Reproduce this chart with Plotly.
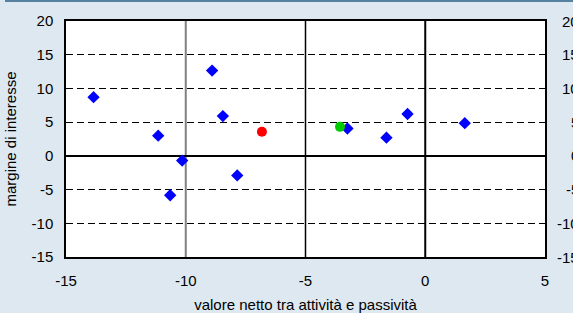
import plotly.graph_objects as go

# Data
banks_x = [-13.85, -11.15, -10.15, -10.65, -8.9, -8.45, -7.85, -3.25, -1.62, -0.74, 1.65]
banks_y = [8.7, 3.0, -0.7, -5.85, 12.65, 5.9, -2.9, 4.05, 2.7, 6.2, 4.85]
red_x = [-6.82]
red_y = [3.58]
green_x = [-3.56]
green_y = [4.3]

x_ticks = [-15, -10, -5, 0, 5]
x_labels = ["-15", "-10", "-5", "0", "5"]
y_ticks = [-15, -10, -5, 0, 5, 10, 15, 20]
y_labels = ["-15", "-10", "-5", "0", "5", "10", "15", "20"]
vlines = [-10, -5, 0]
vline_colors = ["#808080", "#000000", "#000000"]
vline_widths = [2, 1.5, 2]

BG = "#dde8f0"
FONT = "Liberation Sans, Arial, Helvetica, sans-serif"
FS = 15

fig = go.Figure()
fig.add_trace(go.Scatter(x=banks_x, y=banks_y, mode="markers",
                         marker=dict(symbol="diamond", size=9.5, color="#0000ff"),
                         showlegend=False))
fig.add_trace(go.Scatter(x=red_x, y=red_y, mode="markers",
                         marker=dict(symbol="circle", size=10, color="#ff0000"),
                         showlegend=False))
fig.add_trace(go.Scatter(x=green_x, y=green_y, mode="markers",
                         marker=dict(symbol="circle", size=10, color="#00cc00"),
                         showlegend=False))

shapes = []
for xv, c, w in zip(vlines, vline_colors, vline_widths):
    shapes.append(dict(type="line", xref="x", yref="paper", x0=xv, x1=xv, y0=0, y1=1,
                       line=dict(color=c, width=w), layer="below"))
shapes.append(dict(type="line", xref="paper", yref="paper",
                   x0=(5 - 66) / 479, x1=(573 - 66) / 479,
                   y0=(257 - 1) / 236, y1=(257 - 1) / 236,
                   line=dict(color="#2a5f86", width=1.5)))

# right-hand duplicate axis labels (right-aligned, partly outside the frame as in the reference)
annotations = [dict(x=(581 - 66) / 479, xref="paper", y=v, yref="y", text=t,
                    showarrow=False, xanchor="right", yanchor="middle",
                    font=dict(size=FS))
               for v, t in zip(y_ticks, y_labels)]

fig.update_layout(
    width=573, height=313,
    margin=dict(l=66, r=28, t=21, b=56, autoexpand=False),
    paper_bgcolor=BG, plot_bgcolor="white",
    font=dict(family=FONT, size=FS, color="black"),
    shapes=shapes, annotations=annotations,
    xaxis=dict(range=[-15, 5], tickvals=x_ticks, ticktext=x_labels, showgrid=False, zeroline=False,
               showline=True, linecolor="black", linewidth=1.5, mirror=True, automargin=False,
               ticks="", ticklabelstandoff=9,
               title=dict(text="valore netto tra attività e passività",
                          font=dict(size=FS), standoff=14)),
    yaxis=dict(range=[-15, 20], tickvals=y_ticks, ticktext=y_labels, showgrid=True, gridcolor="black",
               griddash="7px,4px", gridwidth=1, automargin=False,
               zeroline=True, zerolinecolor="black", zerolinewidth=2,
               showline=True, linecolor="black", linewidth=1.5, mirror=True,
               ticks="", ticklabelstandoff=8,
               title=dict(text="margine di interesse", font=dict(size=FS), standoff=11)),
)

fig.write_html("out.html", config={"displayModeBar": False},
               post_script="document.body.style.margin='0';document.body.style.background='#dde8f0';")
